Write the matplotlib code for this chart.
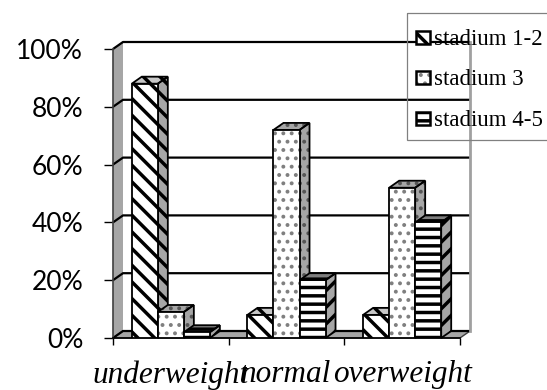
import numpy as np
import matplotlib.pyplot as plt
from matplotlib.patches import Polygon, Rectangle

categories = ["underweight", "normal", "overweight"]
series = ["stadium 1-2", "stadium 3", "stadium 4-5"]
stadium_1_2 = [88, 8, 8]
stadium_3 = [9, 72, 52]
stadium_4_5 = [2, 20, 40]
y_ticks = [0, 20, 40, 60, 80, 100]
y_tick_labels = ["0%", "20%", "40%", "60%", "80%", "100%"]

W, H, DPI = 547, 390, 100
plt.rcParams["hatch.linewidth"] = 2.5

# front plane of the plot box and the 3d depth offset, in pixels
X0, X1, Y0, Y1 = 113, 460, 338, 49
DEPTH_X, DEPTH_Y = 10, 7

# face fill, hatch, hatch colour for every side of the boxes
styles = {
    "stadium 1-2": {
        "front": ("white", "\\\\", "black"),
        "side": ("#a6a6a6", "\\\\", "black"),
        "top": ("#c8c8c8", "\\\\", "black"),
    },
    "stadium 3": {
        "front": ("white", "..", "#7f7f7f"),
        "side": ("#a6a6a6", "..", "#555555"),
        "top": ("#a6a6a6", "..", "#555555"),
    },
    "stadium 4-5": {
        "front": ("white", "--", "black"),
        "side": ("#a6a6a6", "//", "black"),
        "top": ("#7f7f7f", "--", "black"),
    },
}


def hatch_width(p, hatch):
    # dots look better with a thin stroke, stripes with a thick one
    if hatch and "." in hatch and hasattr(p, "set_hatch_linewidth"):
        p.set_hatch_linewidth(1.6)
    return p


def face(ax, pts, fill, hatch, hatch_color, z, outline=True):
    p = Polygon(pts, closed=True, facecolor=fill, edgecolor=hatch_color,
                hatch=hatch, lw=0, clip_on=False, zorder=z)
    ax.add_patch(hatch_width(p, hatch))
    if outline:
        ax.add_patch(Polygon(pts, closed=True, fill=False, edgecolor="black",
                             lw=1.3, clip_on=False, zorder=z + 0.01))


fig = plt.figure(figsize=(W / DPI, H / DPI), dpi=DPI)
ax = fig.add_axes([X0 / W, 1 - Y0 / H, (X1 - X0) / W, (Y0 - Y1) / H])
n = len(categories)
ax.set_xlim(0, n)
ax.set_ylim(0, 100)
ax.patch.set_visible(False)

dx = DEPTH_X * n / (X1 - X0)
dy = DEPTH_Y * 100 / (Y0 - Y1)

# walls and floor
face(ax, [(dx, dy), (n + dx, dy), (n + dx, 100 + dy), (dx, 100 + dy)],
     "white", None, "none", 0.5, outline=False)
ax.add_patch(Polygon([(0, 0), (0, 100), (dx, 100 + dy), (dx, dy)], closed=True,
                     facecolor="#a6a6a6", edgecolor="none", clip_on=False, zorder=0.8))
ax.add_patch(Polygon([(0, 0), (n, 0), (n + dx, dy), (dx, dy)], closed=True,
                     facecolor="#a6a6a6", edgecolor="#404040", lw=1,
                     clip_on=False, zorder=0.8))
for v in y_ticks:
    ax.plot([0, dx, n + dx], [v, v + dy, v + dy], color="black", lw=1.6,
            clip_on=False, zorder=1, solid_capstyle="butt")
ax.plot([n + dx, n + dx], [dy, 100 + dy], color="#a0a0a0", lw=2,
        clip_on=False, zorder=1)

# bars: front face from ax.bar, side and top as polygons
values = [stadium_1_2, stadium_3, stadium_4_5]
w = 0.225
off = (1 - 3 * w) / 2
for j, (name, vals) in enumerate(zip(series, values)):
    st = styles[name]
    xs = np.arange(n) + off + j * w
    z = 3 + j
    fill, hatch, hc = st["front"]
    bars = ax.bar(xs, vals, w, align="edge", facecolor=fill, edgecolor=hc,
                  hatch=hatch, lw=0, zorder=z + 0.02)
    for b in bars:
        hatch_width(b, hatch)
    ax.bar(xs, vals, w, align="edge", fill=False, edgecolor="black", lw=1.3,
           zorder=z + 0.03)
    for x, v in zip(xs, vals):
        side = [(x + w, 0), (x + w + dx, dy), (x + w + dx, v + dy), (x + w, v)]
        top = [(x, v), (x + w, v), (x + w + dx, v + dy), (x + dx, v + dy)]
        face(ax, side, *st["side"], z)
        face(ax, top, *st["top"], z)

for s in ["top", "right"]:
    ax.spines[s].set_visible(False)
ax.spines["left"].set_color("#404040")
ax.spines["left"].set_linewidth(1.2)
ax.spines["bottom"].set_color("black")
ax.spines["bottom"].set_linewidth(1.2)

ax.set_yticks(y_ticks, y_tick_labels, fontfamily="Lato", fontsize=19)
ax.tick_params(axis="y", direction="out", length=6.5, width=1, pad=15)
ax.set_xticks(range(n + 1), [""] * (n + 1))
ax.set_xticks(np.arange(n) + 0.5, categories, minor=True,
              fontfamily="Liberation Serif", fontstyle="italic", fontsize=22.5)
ax.tick_params(axis="x", which="major", direction="out", length=5, width=1)
ax.tick_params(axis="x", which="minor", length=0, pad=16)

# legend drawn in pixel space on an overlay
lax = fig.add_axes([0, 0, 1, 1], zorder=10)
lax.set_xlim(0, W)
lax.set_ylim(H, 0)
lax.axis("off")
lax.add_patch(Rectangle((407, 13), 160, 127, fill=False, edgecolor="#808080", lw=0.9))
legend_baselines = [45, 85, 126]
for name, yb in zip(series, legend_baselines):
    fill, hatch, hc = styles[name]["front"]
    key = Rectangle((416, yb - 14), 14, 13, facecolor=fill, edgecolor=hc,
                    hatch=hatch, lw=0)
    lax.add_patch(hatch_width(key, hatch))
    lax.add_patch(Rectangle((416, yb - 14), 14, 13, fill=False, edgecolor="black", lw=1.8))
    lax.text(434, yb, name, fontsize=16.5, family="Liberation Serif",
             va="baseline", ha="left")

fig.savefig("out.png", dpi=DPI)
